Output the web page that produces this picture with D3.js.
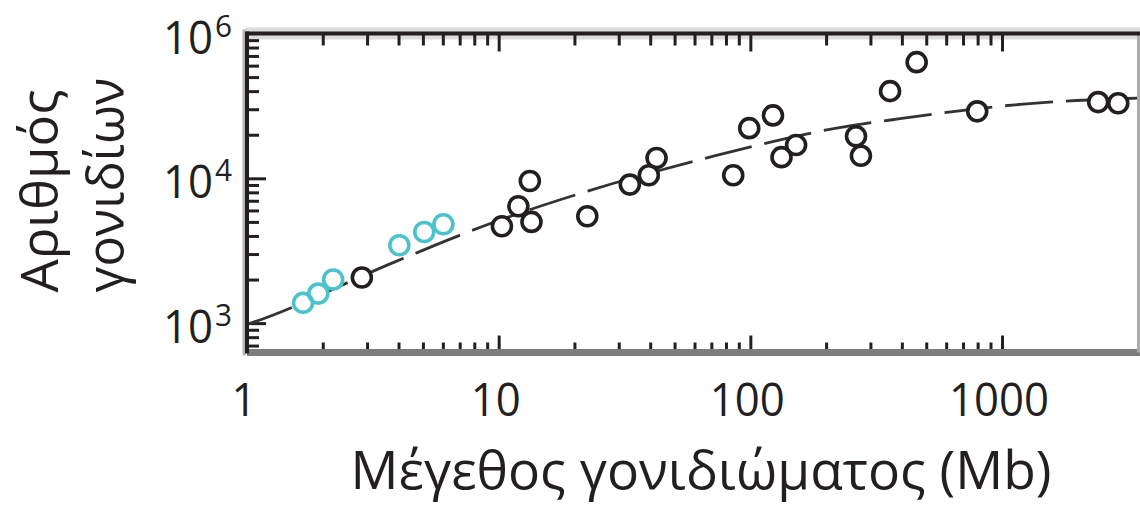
<!DOCTYPE html>
<html>
<head>
<meta charset="utf-8">
<script src="https://cdn.jsdelivr.net/npm/d3@7"></script>
<style>
  html, body { margin: 0; padding: 0; background: #fff; }
  svg { display: block; }
</style>
</head>
<body>
<svg id="chart" width="1140" height="508"></svg>
<script>
// Genome size (Mb) against number of genes, log-log.
// Organisms drawn in cyan
const cyanGenomes = [
  [1.67, 1380], [1.92, 1600], [2.20, 2000], [4.03, 3450], [5.06, 4260], [6.03, 4820]
];
// Organisms drawn in black
const blackGenomes = [
  [2.86, 2065], [10.3, 4670], [11.97, 6410], [13.5, 5000], [13.3, 9580],
  [22.5, 5470], [33.2, 9050], [39.5, 10490], [42.4, 13800], [85.5, 10490],
  [99, 22200], [123, 27200], [133, 14000], [152, 17000], [263, 19500],
  [275, 14300], [359, 40000], [458, 63400], [797, 29000], [2410, 33600], [2896, 33000]
];
// Dashed trend curve
const fitCurve = [
  [1, 980], [1.07, 1020], [3.87, 2650], [8.67, 4670], [23.1, 8260], [69, 14000],
  [220, 22200], [393, 25800], [1253, 32700], [3470, 35800]
];
const xTickValues = [1, 10, 100, 1000];
const xTickLabels = ["1", "10", "100", "1000"];
const yTickValues = [1e3, 1e4, 1e5];
const yTickBase = ["10", "10", "10"];
const yTickExponents = ["3", "4", "6"];
const xTitle = "Μέγεθος γονιδιώματος (Mb)";
const yTitleLines = ["Αριθμός", "γονιδίων"];

const ink = "#231f20";
const cyan = "#4cc3ca";
const font = "'Open Sans', 'Noto Sans', sans-serif";

const svg = d3.select("#chart");
svg.append("rect").attr("width", 1140).attr("height", 508).attr("fill", "#fff");

const x = d3.scaleLog().domain([1, 3470]).range([247, 1138]);
const y = d3.scaleLog().domain([627, 1e5]).range([352.5, 33.5]);
const plotLeft = x.range()[0], plotRight = x.range()[1];
const plotTop = y.range()[1], plotBottom = y.range()[0];

// faint halo along the frame
svg.append("line").attr("x1", plotLeft - 2).attr("x2", 1140).attr("y1", plotTop).attr("y2", plotTop)
  .attr("stroke", "#dcdcdc").attr("stroke-width", 12);
svg.append("line").attr("x1", plotLeft - 3).attr("x2", plotLeft - 3).attr("y1", plotTop - 4).attr("y2", plotBottom + 3)
  .attr("stroke", "#b4b4b4").attr("stroke-width", 3);

// minor / major ticks
const xMinor = x.ticks().filter(v => v <= 1000 && !xTickValues.includes(v));
const yMinor = y.ticks().filter(v => !yTickValues.includes(v));

function styleAxis(g) {
  g.select(".domain").remove();
  g.selectAll(".tick line").attr("stroke", ink).attr("stroke-width", 3);
}
svg.append("g").attr("transform", `translate(0,${plotBottom})`)
  .call(d3.axisBottom(x).tickValues(xMinor).tickSize(-10).tickFormat("")).call(styleAxis);
svg.append("g").attr("transform", `translate(0,${plotBottom})`)
  .call(d3.axisBottom(x).tickValues(xTickValues.slice(1)).tickSize(-17).tickFormat("")).call(styleAxis);
svg.append("g").attr("transform", `translate(0,${plotTop})`)
  .call(d3.axisTop(x).tickValues(xMinor).tickSize(-12).tickFormat("")).call(styleAxis);
svg.append("g").attr("transform", `translate(0,${plotTop})`)
  .call(d3.axisTop(x).tickValues(xTickValues.slice(1)).tickSize(-18).tickFormat("")).call(styleAxis);
svg.append("g").attr("transform", `translate(${plotLeft},0)`)
  .call(d3.axisLeft(y).tickValues(yMinor).tickSize(-12).tickFormat("")).call(styleAxis);
svg.append("g").attr("transform", `translate(${plotLeft},0)`)
  .call(d3.axisLeft(y).tickValues(yTickValues.slice(0, 2)).tickSize(-19).tickFormat("")).call(styleAxis);

// trend curve
const line = d3.line().x(d => x(d[0])).y(d => y(d[1])).curve(d3.curveMonotoneX);
svg.append("path").datum(fitCurve).attr("d", line)
  .attr("fill", "none").attr("stroke", "#333").attr("stroke-width", 2.8)
  .attr("stroke-dasharray", "48,13");

// points: white knock-outs first, then the rings
const allPts = blackGenomes.map(d => ({ d, c: ink })).concat(cyanGenomes.map(d => ({ d, c: cyan })));
svg.append("g").selectAll("circle").data(allPts).join("circle")
  .attr("cx", p => x(p.d[0])).attr("cy", p => y(p.d[1])).attr("r", 9.5)
  .attr("fill", "#fff");
svg.append("g").selectAll("circle").data(allPts).join("circle")
  .attr("cx", p => x(p.d[0])).attr("cy", p => y(p.d[1])).attr("r", 9.5)
  .attr("fill", "none").attr("stroke", p => p.c).attr("stroke-width", 3.6);

// frame
svg.append("line").attr("x1", plotLeft).attr("x2", 1140).attr("y1", plotBottom).attr("y2", plotBottom)
  .attr("stroke", "#7d7d7d").attr("stroke-width", 7);
svg.append("line").attr("x1", plotRight + 0.5).attr("x2", plotRight + 0.5).attr("y1", plotTop).attr("y2", plotBottom)
  .attr("stroke", "#ababab").attr("stroke-width", 3);
svg.append("line").attr("x1", plotLeft - 1).attr("x2", 1140).attr("y1", plotTop).attr("y2", plotTop)
  .attr("stroke", ink).attr("stroke-width", 4);
svg.append("line").attr("x1", plotLeft).attr("x2", plotLeft).attr("y1", plotTop - 2).attr("y2", plotBottom + 1)
  .attr("stroke", ink).attr("stroke-width", 4);

// x tick labels
svg.append("g").selectAll("text").data(xTickValues).join("text")
  .attr("x", v => x(v) - 3).attr("y", 416)
  .attr("text-anchor", "middle").attr("font-family", font).attr("font-size", 46)
  .attr("fill", ink)
  .attr("textLength", (v, i) => xTickLabels[i].length * 25)
  .attr("lengthAdjust", "spacingAndGlyphs")
  .text((v, i) => xTickLabels[i]);

// y tick labels, base plus superscript exponent
const yl = svg.append("g").selectAll("g").data(yTickValues).join("g");
yl.append("text")
  .attr("x", 213).attr("y", v => y(v) + 20)
  .attr("text-anchor", "end").attr("font-family", font).attr("font-size", 46)
  .attr("fill", ink).attr("textLength", 50).attr("lengthAdjust", "spacingAndGlyphs")
  .text((v, i) => yTickBase[i]);
yl.append("text")
  .attr("x", 215).attr("y", v => y(v) + 3)
  .attr("font-family", font).attr("font-size", 31)
  .attr("fill", ink).attr("textLength", 17).attr("lengthAdjust", "spacingAndGlyphs")
  .text((v, i) => yTickExponents[i]);

// axis titles
svg.append("text").attr("x", 701).attr("y", 489)
  .attr("text-anchor", "middle").attr("font-family", font).attr("font-size", 53)
  .attr("fill", ink).attr("textLength", 701).attr("lengthAdjust", "spacingAndGlyphs")
  .text(xTitle);

const yTitlePos = [[58, 191, 203], [124, 185, 215]];
svg.append("g").selectAll("text").data(yTitleLines).join("text")
  .attr("transform", (t, i) => `translate(${yTitlePos[i][0]},${yTitlePos[i][1]}) rotate(-90)`)
  .attr("text-anchor", "middle").attr("font-family", font).attr("font-size", 51)
  .attr("fill", ink)
  .attr("textLength", (t, i) => yTitlePos[i][2]).attr("lengthAdjust", "spacingAndGlyphs")
  .text(t => t);
</script>
</body>
</html>
